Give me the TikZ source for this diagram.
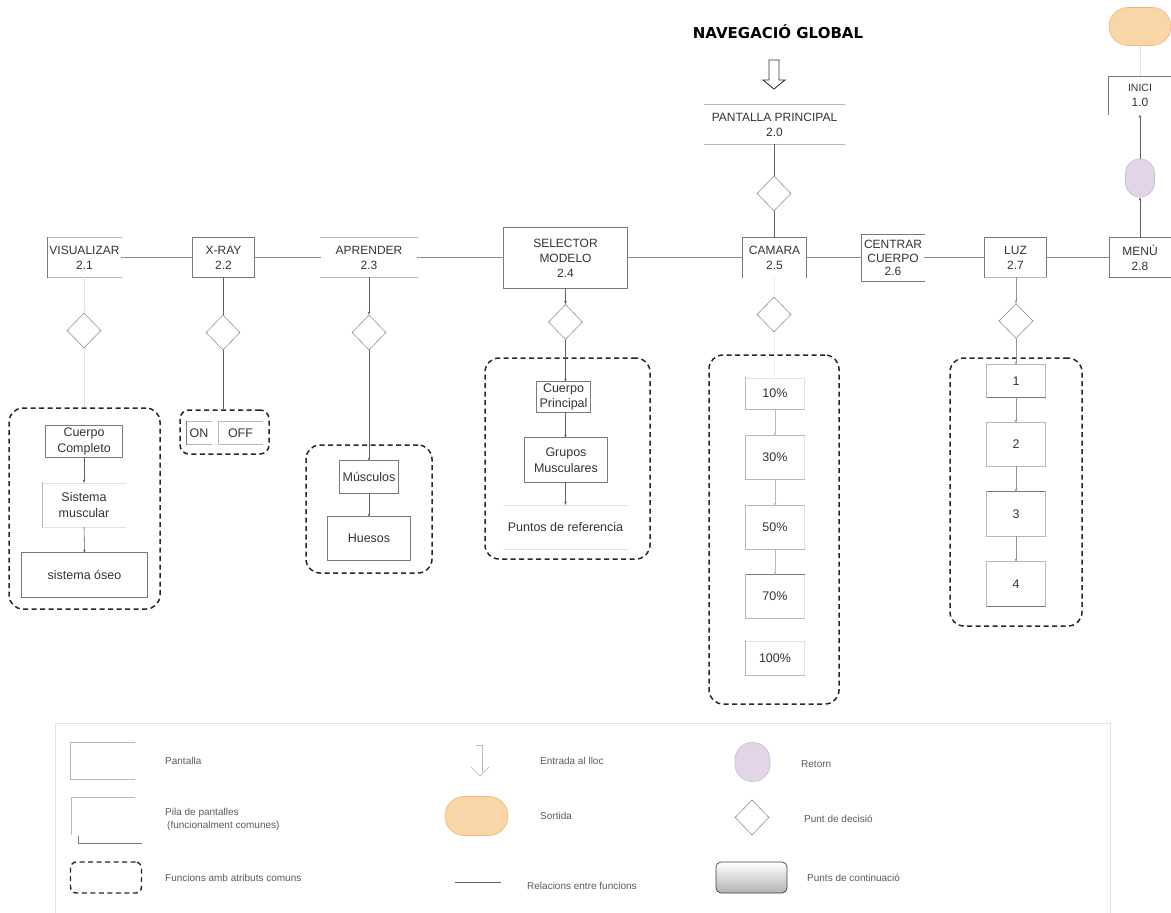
\documentclass[tikz,border=0pt]{standalone}
\usepackage{fontspec}
\setmainfont{Liberation Sans}
\newfontfamily\headfont{DejaVu Sans}
\usetikzlibrary{shapes.geometric,arrows.meta}

\definecolor{txt}{HTML}{333333}
\definecolor{legtxt}{HTML}{5A5A5A}
\definecolor{edgec}{HTML}{7A7A7A}
\definecolor{softc}{HTML}{B8B8B8}
\definecolor{faintc}{HTML}{E2E2E2}
\definecolor{wirec}{HTML}{5E5E5E}
\definecolor{exitfill}{HTML}{F9D6A8}
\definecolor{exitline}{HTML}{EDB77E}
\definecolor{backfill}{HTML}{E1D5E7}
\definecolor{backline}{HTML}{CDBBD9}

\tikzset{
  lbl/.style={inner sep=0pt, text=txt, align=center, font=\fontsize{12}{15}\selectfont},
  scr/.style 2 args={lbl, rectangle, minimum width=#1pt, minimum height=#2pt},
  inbox/.style 2 args={scr={#1}{#2}, font=\fontsize{12.5}{15.5}\selectfont},
  dk/.style={draw=edgec, line width=0.7pt, line cap=rect},
  lt/.style={draw=softc, line width=0.7pt, line cap=rect},
  ft/.style={draw=faintc, line width=0.6pt, line cap=rect},
  no/.style={draw=none},
  wire/.style={draw=wirec, line width=0.6pt},
  arr/.style={wire, -{Stealth[length=3.2pt,width=2.6pt]}},
  farr/.style={draw=faintc, line width=0.6pt, -{Stealth[length=3.2pt,width=2.6pt]}},
  rel/.style={draw=wirec, line width=0.6pt, double=black!45, double distance=0.6pt},
  dec/.style={diamond, draw=softc!80!black, line width=0.6pt, minimum width=34pt,
              minimum height=35pt, inner sep=0pt, shape aspect=1},
  grp/.style 2 args={rectangle, draw=black!85, line width=1.5pt,
              dash pattern=on 5pt off 3.5pt, rounded corners=14pt,
              minimum width=#1pt, minimum height=#2pt, inner sep=0pt},
  legend/.style={inner sep=0pt, text=legtxt, anchor=west, align=left,
              font=\fontsize{10}{13}\selectfont},
}

% draw the four sides of a named box with individual styles: top, right, bottom, left
\newcommand\boxedges[5]{%
  \draw[#2] (#1.north west) -- (#1.north east);
  \draw[#3] (#1.north east) -- (#1.south east);
  \draw[#4] (#1.south east) -- (#1.south west);
  \draw[#5] (#1.south west) -- (#1.north west);}

\begin{document}
\begin{tikzpicture}[x=1pt,y=-1pt]
\useasboundingbox (0,0) rectangle (1171,913);

% ---------- heading and entry ----------
\node[font=\headfont\bfseries\fontsize{15}{18}\selectfont, text=black, inner sep=0pt]
  (title) at (778,32) {NAVEGACIÓ GLOBAL};
\draw[black!80, line width=0.9pt, line join=miter]
  (769,60) -- (779,60) -- (779,80) -- (785,80) -- (774,89) -- (763,80) -- (769,80) -- cycle;

\node[scr={139}{39}] (pp) at (774.5,124.5) {PANTALLA PRINCIPAL\\2.0};
\boxedges{pp}{lt}{no}{lt}{no}
\node[dec] (dpp) at (774,193.5) {};

% ---------- exit, return, start ----------
\node[rectangle, rounded corners=19pt, minimum width=62pt, minimum height=38pt,
      fill=exitfill, draw=exitline, line width=0.6pt] (exit) at (1140,26.5) {};
\node[scr={62}{38}] (inici) at (1140,95.5) {\fontsize{10.5}{13}\selectfont INICI\\1.0};
\boxedges{inici}{dk}{no}{no}{dk}
\node[rectangle, rounded corners=14pt, minimum width=29pt, minimum height=38pt,
      fill=backfill, draw=backline, line width=0.6pt] (ret) at (1140,178) {};

% ---------- main row ----------
\node[scr={73}{39}] (vis) at (84.5,257.5) {VISUALIZAR\\2.1};
\boxedges{vis}{lt}{no}{lt}{dk}
\node[scr={61}{39}] (xray) at (223.5,257.5) {X-RAY\\2.2};
\boxedges{xray}{dk}{dk}{dk}{dk}
\node[scr={96}{39}] (apr) at (369,257.5) {APRENDER\\2.3};
\boxedges{apr}{lt}{no}{lt}{no}
\node[scr={123}{60}] (sel) at (565.5,258) {SELECTOR\\MODELO\\2.4};
\boxedges{sel}{dk}{dk}{dk}{dk}
\node[scr={63}{39}] (cam) at (774.5,257.5) {CAMARA\\2.5};
\boxedges{cam}{dk}{dk}{no}{dk}
\node[scr={62}{46}, font=\fontsize{12}{13.5}\selectfont] (cen) at (893,258) {CENTRAR\\CUERPO\\2.6};
\boxedges{cen}{dk}{no}{dk}{dk}
\node[scr={62}{39}] (luz) at (1015.5,257.5) {LUZ\\2.7};
\boxedges{luz}{dk}{dk}{lt}{dk}
\node[scr={61}{39}] (menu) at (1140,257.5) {MENÚ\\2.8};
\boxedges{menu}{dk}{no}{dk}{dk}

\draw[rel] (vis.east) -- (xray.west);
\draw[rel] (xray.east) -- (apr.west);
\draw[rel] (apr.east) -- (sel.west |- apr.east);
\draw[rel] (sel.east |- cam.west) -- (cam.west);
\draw[rel] (cam.east) -- (cam.east -| cen.west);
\draw[rel] (cen.east |- luz.west) -- (luz.west);
\draw[rel] (luz.east) -- (menu.west);

% ---------- decision points ----------
\node[dec] (d1) at (84,330.5) {};
\node[dec] (d2) at (223,332.5) {};
\node[dec] (d3) at (369,332.5) {};
\node[dec] (d4) at (565.5,322) {};
\node[dec] (d5) at (774,314.5) {};
\node[dec] (d7) at (1016,321) {};

% ---------- groups of common functions ----------
\node[grp={151}{201}] (g1) at (84.5,508.5) {};
\node[grp={89}{44}, rounded corners=9pt] (g2) at (224.5,432) {};
\node[grp={126}{128}] (g3) at (369,509) {};
\node[grp={165}{201}] (g4) at (567.5,458.5) {};
\node[grp={130}{349}] (g5) at (774,529.5) {};
\node[grp={132}{268}] (g6) at (1016,492) {};

% VISUALIZAR
\node[inbox={77}{31}] (cc) at (84,441.5) {Cuerpo\\Completo};
\boxedges{cc}{dk}{dk}{dk}{dk}
\node[inbox={82}{44}] (sm) at (84,505) {Sistema\\muscular};
\boxedges{sm}{ft}{no}{ft}{lt}
\node[inbox={125}{44}] (so) at (84.5,575) {sistema óseo};
\boxedges{so}{dk}{dk}{dk}{dk}

% X-RAY
\node[inbox={24}{22}] (on) at (199,433) {ON};
\boxedges{on}{lt}{no}{lt}{dk}
\node[inbox={43}{22}] (off) at (240.5,433) {OFF};
\boxedges{off}{lt}{no}{lt}{lt}

% APRENDER
\node[inbox={58}{32}] (mus) at (369,477) {Músculos};
\boxedges{mus}{dk}{dk}{dk}{dk}
\node[inbox={82}{43}] (hue) at (369,538.5) {Huesos};
\boxedges{hue}{dk}{dk}{dk}{dk}

% SELECTOR MODELO
\node[inbox={54}{30}] (cp) at (563.5,397) {Cuerpo\\Principal};
\boxedges{cp}{dk}{dk}{dk}{dk}
\node[inbox={82}{44}] (gm) at (566,460) {Grupos\\Musculares};
\boxedges{gm}{dk}{dk}{dk}{dk}
\node[inbox={125}{44}] (pr) at (565.5,527) {Puntos de referencia};
\boxedges{pr}{ft}{no}{ft}{no}

% CAMARA
\node[inbox={58}{31}] (c10) at (775,393.5) {10\%};
\boxedges{c10}{ft}{ft}{lt}{lt}
\node[inbox={58}{43}] (c30) at (775,457.5) {30\%};
\boxedges{c30}{lt}{ft}{lt}{lt}
\node[inbox={58}{43}] (c50) at (775,527.5) {50\%};
\boxedges{c50}{lt}{ft}{lt}{lt}
\node[inbox={58}{43}] (c70) at (775,596.5) {70\%};
\boxedges{c70}{dk}{ft}{lt}{lt}
\node[inbox={58}{34}] (c100) at (775,658) {100\%};
\boxedges{c100}{ft}{ft}{lt}{lt}

% LUZ
\node[inbox={58}{32}] (l1) at (1016,381) {1};
\boxedges{l1}{lt}{lt}{dk}{lt}
\node[inbox={58}{43}] (l2) at (1016,444.5) {2};
\boxedges{l2}{lt}{lt}{lt}{lt}
\node[inbox={58}{44}] (l3) at (1016,514) {3};
\boxedges{l3}{dk}{lt}{lt}{lt}
\node[inbox={58}{44}] (l4) at (1016,584) {4};
\boxedges{l4}{lt}{lt}{dk}{lt}

% ---------- relations ----------
\draw[wire] (pp.south -| dpp) -- (dpp.north);
\draw[wire] (dpp.south) -- (dpp.south |- cam.north);

\draw[arr] (menu.north) -- (ret.south);
\draw[arr] (ret.north) -- (inici.south);
\draw[farr] (inici.north) -- (exit.south);

\draw[farr] (vis.south -| d1) -- (d1.north);
\draw[draw=faintc, line width=0.6pt] (d1.south) -- (d1.south |- g1.north);

\draw[wire] (xray.south -| d2) -- (d2.north);
\draw[wire] (d2.south) -- (d2.south |- g2.north);

\draw[arr] (apr.south) -- (d3.north);
\draw[arr] (d3.south) -- (mus.north);
\draw[arr] (mus.south) -- (hue.north);

\draw[arr] (sel.south -| d4) -- (d4.north);
\draw[arr] (d4.south) -- (d4.south |- cp.north);
\draw[arr] (cp.south -| d4) -- (d4 |- gm.north);
\draw[arr] (gm.south -| d4) -- (d4 |- pr.north);

\draw[arr] (cc.south) -- (sm.north);
\draw[arr] (sm.south) -- (so.north);

\draw[draw=faintc!60, line width=0.5pt] (cam.south -| d5) -- (d5.north);
\draw[draw=faintc!60, line width=0.5pt] (d5.south) -- (d5.south |- c10.north);
\draw[arr, draw=softc] (c10.south) -- (c30.north);
\draw[arr, draw=softc] (c30.south) -- (c50.north);
\draw[arr, draw=softc] (c50.south) -- (c70.north);

\draw[arr, draw=softc!80!black] (luz.south -| d7) -- (d7.north);
\draw[arr, draw=softc!80!black] (d7.south) -- (d7.south |- l1.north);
\draw[arr, draw=softc!80!black] (l1.south -| d7) -- (d7 |- l2.north);
\draw[arr, draw=softc!80!black] (l2.south -| d7) -- (d7 |- l3.north);
\draw[arr, draw=softc!80!black] (l3.south -| d7) -- (d7 |- l4.north);

% ---------- legend ----------
\draw[ft] (55,913) -- (55,723) -- (1110,723) -- (1110,913);

\draw[lt] (135,742) -- (70,742) -- (70,779) -- (135,779);
\node[legend] (k1) at (165,761) {Pantalla};

\draw[lt] (135,797) -- (71,797) -- (71,835);
\draw[dk] (78,836) -- (78,843) -- (142,843);
\node[legend] (k2) at (165,819) {Pila de pantalles\\\hspace*{2pt}(funcionalment comunes)};

\node[grp={71}{31}, rounded corners=6pt, line width=1.4pt] (k3s) at (106,877.5) {};
\node[legend] (k3) at (165,878) {Funcions amb atributs comuns};

\draw[lt] (476,745) -- (482,745) -- (482,772);
\draw[lt] (471,767) -- (480,776) -- (489,767);
\node[legend] (k4) at (540,761) {Entrada al lloc};

\node[rectangle, rounded corners=19pt, minimum width=63pt, minimum height=39pt,
      fill=exitfill, draw=exitline, line width=0.6pt] (k5s) at (476.5,816) {};
\node[legend] (k5) at (540,816) {Sortida};

\draw[wire, line width=0.8pt] (455,882) -- (501,882);
\node[legend] (k6) at (527,886) {Relacions entre funcions};

\node[rectangle, rounded corners=17pt, minimum width=35pt, minimum height=39pt,
      fill=backfill, draw=backline, line width=0.6pt] (k7s) at (752.5,762) {};
\node[legend] (k7) at (801,764) {Retorn};

\node[dec] (k8s) at (752,817.5) {};
\node[legend] (k8) at (804,819) {Punt de decisió};

\node[rectangle, rounded corners=5pt, minimum width=71pt, minimum height=31pt,
      top color=white, bottom color=black!30, draw=black!75, line width=0.7pt] (k9s) at (751.5,877.5) {};
\node[legend] (k9) at (807,878) {Punts de continuació};

\end{tikzpicture}
\end{document}
